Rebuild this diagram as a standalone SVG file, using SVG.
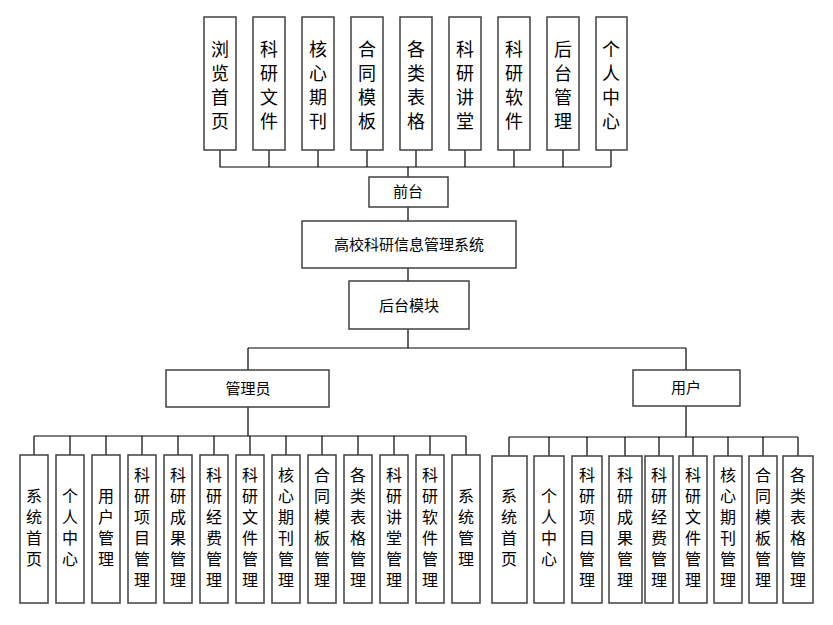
<svg xmlns="http://www.w3.org/2000/svg" width="833" height="625" viewBox="0 0 833 625">
<style>
rect{fill:#fff;stroke:#404040;stroke-width:1.5}
.c path{fill:none;stroke:#000;stroke-width:1.2}
text{font-family:"Noto Sans CJK SC","Liberation Sans",sans-serif;fill:#000;text-anchor:middle}
.t text{font-size:18px}
.b text{font-size:16px}
.m{font-size:15px}
</style>
<rect x="0" y="0" width="833" height="625" style="fill:#fff;stroke:none"/>
<g class="c">
<path d="M220 150V167H611M269 150V167M318 150V167M367 150V167M416 150V167M465 150V167M514 150V167M563 150V167M611 150V167M408 167V177M408 207V221M408 268V281M408 329V348M248 348H686M248 348V370M686 348V370"/>
<path d="M248 407V436M34 436H466M34 436V455M70 436V455M106 436V455M142 436V455M178 436V455M214 436V455M250 436V455M286 436V455M322 436V455M358 436V455M394 436V455M430 436V455M466 436V455"/>
<path d="M686 406V437M509 437H798M509 437V456M549 437V456M587 437V456M625 437V456M659 437V456M693 437V456M728 437V456M763 437V456M798 437V456"/>
</g>
<g class="t">
<g id="n1"><rect x="204" y="17" width="32" height="133"/><text x="220" y="56">浏</text><text x="220" y="80">览</text><text x="220" y="104">首</text><text x="220" y="128">页</text></g>
<g id="n2"><rect x="253" y="17" width="32" height="133"/><text x="269" y="56">科</text><text x="269" y="80">研</text><text x="269" y="104">文</text><text x="269" y="128">件</text></g>
<g id="n3"><rect x="302" y="17" width="32" height="133"/><text x="318" y="56">核</text><text x="318" y="80">心</text><text x="318" y="104">期</text><text x="318" y="128">刊</text></g>
<g id="n4"><rect x="351" y="17" width="32" height="133"/><text x="367" y="56">合</text><text x="367" y="80">同</text><text x="367" y="104">模</text><text x="367" y="128">板</text></g>
<g id="n5"><rect x="400" y="17" width="32" height="133"/><text x="416" y="56">各</text><text x="416" y="80">类</text><text x="416" y="104">表</text><text x="416" y="128">格</text></g>
<g id="n6"><rect x="449" y="17" width="32" height="133"/><text x="465" y="56">科</text><text x="465" y="80">研</text><text x="465" y="104">讲</text><text x="465" y="128">堂</text></g>
<g id="n7"><rect x="498" y="17" width="32" height="133"/><text x="514" y="56">科</text><text x="514" y="80">研</text><text x="514" y="104">软</text><text x="514" y="128">件</text></g>
<g id="n8"><rect x="547" y="17" width="32" height="133"/><text x="563" y="56">后</text><text x="563" y="80">台</text><text x="563" y="104">管</text><text x="563" y="128">理</text></g>
<g id="n9"><rect x="596" y="17" width="31" height="133"/><text x="611" y="56">个</text><text x="611" y="80">人</text><text x="611" y="104">中</text><text x="611" y="128">心</text></g>
</g>
<g id="qt"><rect x="369" y="177" width="79" height="30"/><text class="m" x="408" y="197">前台</text></g>
<g id="sys"><rect x="302" y="221" width="214" height="47"/><text class="m" x="409" y="250">高校科研信息管理系统</text></g>
<g id="ht"><rect x="349" y="281" width="120" height="48"/><text class="m" x="409" y="311">后台模块</text></g>
<g id="adm"><rect x="166" y="370" width="163" height="37"/><text class="m" x="248" y="394">管理员</text></g>
<g id="usr"><rect x="633" y="370" width="107" height="36"/><text class="m" x="686" y="393">用户</text></g>
<g class="b">
<g id="a1"><rect x="20" y="455" width="28" height="148"/><text x="34" y="502">系</text><text x="34" y="523">统</text><text x="34" y="544">首</text><text x="34" y="565">页</text></g>
<g id="a2"><rect x="56" y="455" width="28" height="148"/><text x="70" y="502">个</text><text x="70" y="523">人</text><text x="70" y="544">中</text><text x="70" y="565">心</text></g>
<g id="a3"><rect x="92" y="455" width="28" height="148"/><text x="106" y="502">用</text><text x="106" y="523">户</text><text x="106" y="544">管</text><text x="106" y="565">理</text></g>
<g id="a4"><rect x="128" y="455" width="28" height="148"/><text x="142" y="481">科</text><text x="142" y="502">研</text><text x="142" y="523">项</text><text x="142" y="544">目</text><text x="142" y="565">管</text><text x="142" y="586">理</text></g>
<g id="a5"><rect x="164" y="455" width="28" height="148"/><text x="178" y="481">科</text><text x="178" y="502">研</text><text x="178" y="523">成</text><text x="178" y="544">果</text><text x="178" y="565">管</text><text x="178" y="586">理</text></g>
<g id="a6"><rect x="200" y="455" width="28" height="148"/><text x="214" y="481">科</text><text x="214" y="502">研</text><text x="214" y="523">经</text><text x="214" y="544">费</text><text x="214" y="565">管</text><text x="214" y="586">理</text></g>
<g id="a7"><rect x="236" y="455" width="28" height="148"/><text x="250" y="481">科</text><text x="250" y="502">研</text><text x="250" y="523">文</text><text x="250" y="544">件</text><text x="250" y="565">管</text><text x="250" y="586">理</text></g>
<g id="a8"><rect x="272" y="455" width="28" height="148"/><text x="286" y="481">核</text><text x="286" y="502">心</text><text x="286" y="523">期</text><text x="286" y="544">刊</text><text x="286" y="565">管</text><text x="286" y="586">理</text></g>
<g id="a9"><rect x="308" y="455" width="28" height="148"/><text x="322" y="481">合</text><text x="322" y="502">同</text><text x="322" y="523">模</text><text x="322" y="544">板</text><text x="322" y="565">管</text><text x="322" y="586">理</text></g>
<g id="a10"><rect x="344" y="455" width="28" height="148"/><text x="358" y="481">各</text><text x="358" y="502">类</text><text x="358" y="523">表</text><text x="358" y="544">格</text><text x="358" y="565">管</text><text x="358" y="586">理</text></g>
<g id="a11"><rect x="380" y="455" width="28" height="148"/><text x="394" y="481">科</text><text x="394" y="502">研</text><text x="394" y="523">讲</text><text x="394" y="544">堂</text><text x="394" y="565">管</text><text x="394" y="586">理</text></g>
<g id="a12"><rect x="416" y="455" width="28" height="148"/><text x="430" y="481">科</text><text x="430" y="502">研</text><text x="430" y="523">软</text><text x="430" y="544">件</text><text x="430" y="565">管</text><text x="430" y="586">理</text></g>
<g id="a13"><rect x="452" y="455" width="28" height="148"/><text x="466" y="502">系</text><text x="466" y="523">统</text><text x="466" y="544">管</text><text x="466" y="565">理</text></g>
<g id="u1"><rect x="492" y="456" width="35" height="147"/><text x="509" y="502">系</text><text x="509" y="523">统</text><text x="509" y="544">首</text><text x="509" y="565">页</text></g>
<g id="u2"><rect x="534" y="456" width="30" height="147"/><text x="549" y="502">个</text><text x="549" y="523">人</text><text x="549" y="544">中</text><text x="549" y="565">心</text></g>
<g id="u3"><rect x="572" y="456" width="30" height="147"/><text x="587" y="481">科</text><text x="587" y="502">研</text><text x="587" y="523">项</text><text x="587" y="544">目</text><text x="587" y="565">管</text><text x="587" y="586">理</text></g>
<g id="u4"><rect x="609" y="456" width="33" height="147"/><text x="625" y="481">科</text><text x="625" y="502">研</text><text x="625" y="523">成</text><text x="625" y="544">果</text><text x="625" y="565">管</text><text x="625" y="586">理</text></g>
<g id="u5"><rect x="645" y="456" width="28" height="147"/><text x="659" y="481">科</text><text x="659" y="502">研</text><text x="659" y="523">经</text><text x="659" y="544">费</text><text x="659" y="565">管</text><text x="659" y="586">理</text></g>
<g id="u6"><rect x="679" y="456" width="28" height="147"/><text x="693" y="481">科</text><text x="693" y="502">研</text><text x="693" y="523">文</text><text x="693" y="544">件</text><text x="693" y="565">管</text><text x="693" y="586">理</text></g>
<g id="u7"><rect x="714" y="456" width="28" height="147"/><text x="728" y="481">核</text><text x="728" y="502">心</text><text x="728" y="523">期</text><text x="728" y="544">刊</text><text x="728" y="565">管</text><text x="728" y="586">理</text></g>
<g id="u8"><rect x="749" y="456" width="28" height="147"/><text x="763" y="481">合</text><text x="763" y="502">同</text><text x="763" y="523">模</text><text x="763" y="544">板</text><text x="763" y="565">管</text><text x="763" y="586">理</text></g>
<g id="u9"><rect x="783" y="456" width="30" height="147"/><text x="798" y="481">各</text><text x="798" y="502">类</text><text x="798" y="523">表</text><text x="798" y="544">格</text><text x="798" y="565">管</text><text x="798" y="586">理</text></g>
</g>
</svg>
